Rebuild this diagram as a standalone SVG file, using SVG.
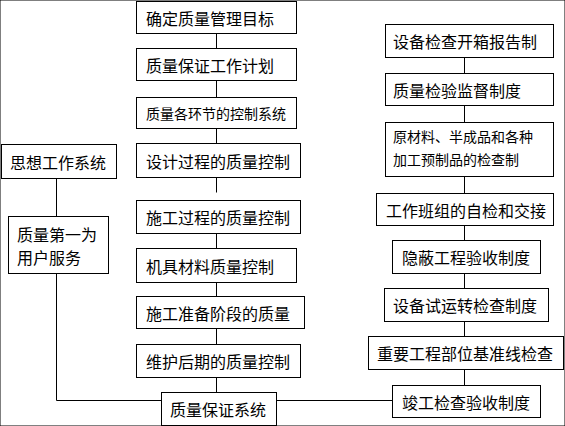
<svg xmlns="http://www.w3.org/2000/svg" width="565" height="426" viewBox="0 0 565 426">
<style>
rect{fill:#fff;stroke:#000;stroke-width:1}
line,polyline{stroke:#000;stroke-width:1;fill:none}
text{font-family:"Noto Sans CJK SC","Noto Sans CJK JP",sans-serif;font-size:16px;fill:#000;dominant-baseline:central}
.s{font-size:14px}
</style>
<rect width="565" height="426" fill="#fff" stroke="none"/>
<g id="connectors">
<line x1="216.5" y1="33.5" x2="216.5" y2="48.5"/>
<line x1="216.5" y1="80.5" x2="216.5" y2="97.5"/>
<line x1="216.5" y1="128.5" x2="216.5" y2="143.5"/>
<line x1="216.5" y1="177.5" x2="216.5" y2="192.5"/>
<line x1="216.5" y1="233.5" x2="216.5" y2="248.5"/>
<line x1="216.5" y1="282.5" x2="216.5" y2="296.5"/>
<line x1="216.5" y1="328.5" x2="216.5" y2="344.5"/>
<line x1="216.5" y1="377.5" x2="216.5" y2="392.5"/>
<line x1="56.5" y1="178.5" x2="56.5" y2="216.5"/>
<polyline points="56.5,273.5 56.5,400.5 161.5,400.5"/>
<line x1="276.5" y1="400.5" x2="392.5" y2="400.5"/>
<line x1="464.5" y1="57.5" x2="464.5" y2="73.5"/>
<line x1="464.5" y1="105.5" x2="464.5" y2="122.5"/>
<line x1="464.5" y1="176.5" x2="464.5" y2="193.5"/>
<line x1="464.5" y1="225.5" x2="464.5" y2="240.5"/>
<line x1="464.5" y1="273.5" x2="464.5" y2="288.5"/>
<line x1="464.5" y1="321.5" x2="464.5" y2="336.5"/>
<line x1="464.5" y1="369.5" x2="464.5" y2="385.5"/>
</g>
<g id="b1"><rect x="136.5" y="1.5" width="160" height="32"/><text x="146" y="17.5">确定质量管理目标</text></g>
<g id="b2"><rect x="136.5" y="48.5" width="160" height="32"/><text x="146" y="64.5">质量保证工作计划</text></g>
<g id="b3"><rect x="136.5" y="97.5" width="160" height="31"/><text class="s" x="146" y="113">质量各环节的控制系统</text></g>
<g id="b4"><rect x="136.5" y="143.5" width="164" height="34"/><text x="146" y="160.5">设计过程的质量控制</text></g>
<g id="b5"><rect x="136.5" y="200.5" width="164" height="33"/><text x="146" y="217">施工过程的质量控制</text></g>
<g id="b6"><rect x="136.5" y="248.5" width="160" height="34"/><text x="146" y="265.5">机具材料质量控制</text></g>
<g id="b7"><rect x="136.5" y="296.5" width="168" height="32"/><text x="146" y="312.5">施工准备阶段的质量</text></g>
<g id="b8"><rect x="136.5" y="344.5" width="164" height="33"/><text x="146" y="361">维护后期的质量控制</text></g>
<g id="b9"><rect x="161.5" y="392.5" width="115" height="33"/><text x="170" y="409">质量保证系统</text></g>
<g id="l1"><rect x="1.5" y="144.5" width="115" height="34"/><text x="10" y="161.5">思想工作系统</text></g>
<g id="l2"><rect x="8.5" y="216.5" width="100" height="57"/><text x="17" y="233.5">质量第一为</text><text x="17" y="256.5">用户服务</text></g>
<g id="r1"><rect x="385.5" y="24.5" width="168" height="33"/><text x="393" y="41">设备检查开箱报告制</text></g>
<g id="r2"><rect x="385.5" y="73.5" width="168" height="32"/><text x="393" y="89.5">质量检验监督制度</text></g>
<g id="r3"><rect x="385.5" y="122.5" width="168" height="54"/><text class="s" x="393" y="135.5">原材料、半成品和各种</text><text class="s" x="393" y="158.5">加工预制品的检查制</text></g>
<g id="r4"><rect x="376.5" y="193.5" width="177" height="32"/><text x="386" y="209.5">工作班组的自检和交接</text></g>
<g id="r5"><rect x="392.5" y="240.5" width="148" height="33"/><text x="402" y="257">隐蔽工程验收制度</text></g>
<g id="r6"><rect x="384.5" y="288.5" width="164" height="33"/><text x="393" y="305">设备试运转检查制度</text></g>
<g id="r7"><rect x="368.5" y="336.5" width="195" height="33"/><text x="377" y="353">重要工程部位基准线检查</text></g>
<g id="r8"><rect x="392.5" y="385.5" width="148" height="32"/><text x="402" y="401.5">竣工检查验收制度</text></g>
</svg>
